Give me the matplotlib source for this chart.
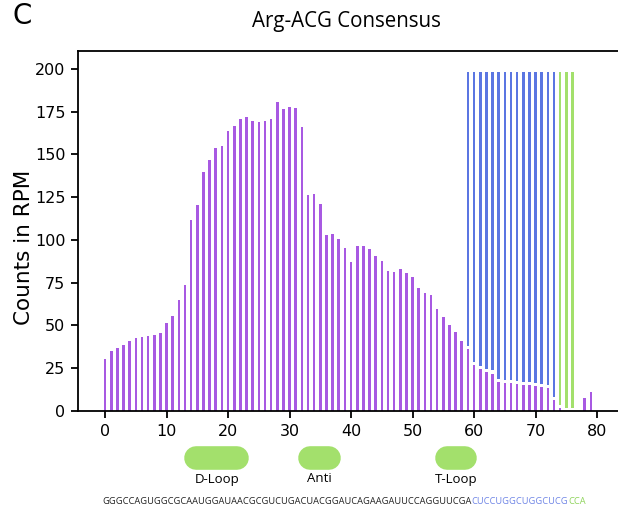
#!/usr/bin/env python3
import numpy as np
import matplotlib.pyplot as plt

### Arg-ACG consensus coverage (counts in RPM) per tRNA position,
### with the 3' end positions marked in blue / green and the loop regions below.

# =========================================================
# Data
# =========================================================
positions = np.arange(80)

counts_rpm = [30.3, 35.0, 37.1, 38.6, 41.2, 42.4, 43.0, 43.9, 44.5, 45.7,
              51.7, 55.3, 64.8, 73.6, 111.6, 120.6, 139.7, 146.8, 153.8, 155.0,
              163.9, 166.7, 170.6, 172.0, 169.6, 169.2, 169.6, 170.8, 180.5, 176.6,
              177.8, 177.0, 166.1, 126.3, 127.1, 120.8, 102.9, 103.3, 100.3, 95.4,
              87.0, 96.4, 96.2, 94.7, 90.6, 88.0, 81.8, 81.4, 82.8, 80.4,
              78.1, 71.8, 69.1, 68.1, 59.9, 54.9, 50.2, 46.2, 41.0, 36.1,
              27.1, 24.8, 22.9, 21.9, 17.0, 16.4, 16.4, 16.0, 15.4, 15.0,
              14.5, 14.1, 13.5, 6.3, 1.8, 0.0, 0.0, 0.0, 7.6, 11.1]

# marked positions (full height bars)
blue_pos = list(range(59, 74))
green_pos = [74, 75, 76]
mark_top = 198.0

# loop annotations (start / end position of each pill)
loop_names = ["D-Loop", "Anti", "T-Loop"]
loop_start = [14.8, 33.3, 55.6]
loop_end = [21.5, 36.4, 58.5]

seq_parts = ["GGGCCAGUGGCGCAAUGGAUAACGCGUCUGACUACGGAUCAGAAGAUUCCAGGUUCGA",
             "CUCCUGGCUGGCUCG",
             "CCA"]

# =========================================================
# Style
# =========================================================
purple = "#a859e2"
blue = "#5b76e2"
green = "#a3e06c"
seq_colors = ["#222222", "#7086e6", "#8fd45c"]
gap = 1.8
bar_w = 0.42

W, H = 618, 507
fig = plt.figure(figsize=(W / 100, H / 100), dpi=100)
ax = fig.add_axes([78 / W, 1 - 411 / H, (W - 78) / W, 360 / H])

# =========================================================
# Bars
# =========================================================
counts = np.array(counts_rpm)
ax.bar(positions, counts, width=bar_w, color=purple, zorder=2)

b_bottom = counts[blue_pos] + gap
ax.bar(blue_pos, mark_top - b_bottom, bottom=b_bottom, width=bar_w, color=blue, zorder=2)
g_bottom = np.maximum(counts[green_pos] + gap, 1.0)
ax.bar(green_pos, mark_top - g_bottom, bottom=g_bottom, width=bar_w, color=green, zorder=2)

# =========================================================
# Axes formatting
# =========================================================
ax.set_xlim(-4.4, 83.4)
ax.set_ylim(0, 210.5)
ax.set_xticks(np.arange(0, 81, 10))
ax.set_yticks(np.arange(0, 201, 25))
ax.spines["right"].set_visible(False)
for s in ["left", "top", "bottom"]:
    ax.spines[s].set_linewidth(1.3)
ax.tick_params(axis="both", labelsize=11.5, length=5, width=1.3, pad=4)

ax.set_ylabel("Counts in RPM", fontsize=15.5, va="center")
ax.yaxis.set_label_coords(-54 / 540, (411 - 247) / 360)

fig.text(346 / W, 1 - 22 / H, "Arg-ACG Consensus", fontsize=14.8,
         family="Open Sans", ha="center", va="center")
fig.text(22 / W, 1 - 16 / H, "C", fontsize=20, ha="center", va="center")

# =========================================================
# Loop pills + labels
# =========================================================
ann = fig.add_axes([78 / W, 0, (W - 78) / W, 60 / H])
ann.set_xlim(ax.get_xlim())
ann.set_ylim(0, 60)
ann.axis("off")
for name, x0, x1 in zip(loop_names, loop_start, loop_end):
    ann.plot([x0, x1], [49, 49], color=green, lw=17,
             solid_capstyle="round", clip_on=False)
    ann.text((x0 + x1) / 2, 28, name, fontsize=9.5, family="Open Sans",
             ha="center", va="center")

# =========================================================
# Sequence
# =========================================================
fig.canvas.draw()
r = fig.canvas.get_renderer()
xpix = 102.0
for seg, col in zip(seq_parts, seq_colors):
    t = fig.text(xpix / W, 1 - 501 / H, seg, color=col, fontsize=6.7,
                 family="Open Sans", ha="left", va="center")
    xpix += t.get_window_extent(renderer=r).width

plt.savefig("out.png", dpi=100)
plt.close()
